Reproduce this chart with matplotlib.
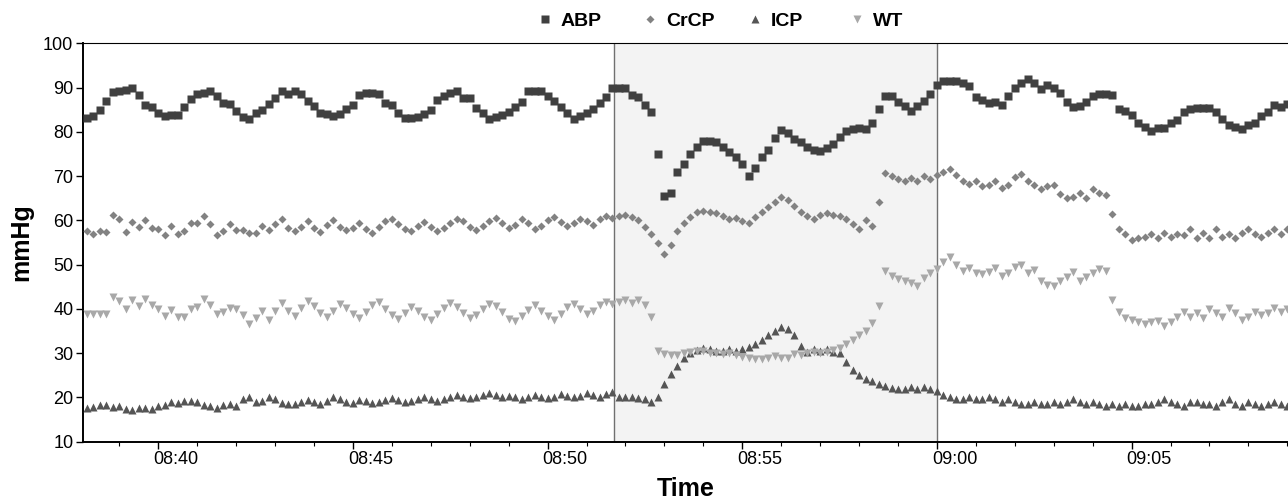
import numpy as np
import matplotlib
matplotlib.use('Agg')
import matplotlib.pyplot as plt
import matplotlib.dates as mdates
import matplotlib.transforms as mtransforms
from matplotlib.lines import Line2D

plt.rcParams['font.family'] = ['Liberation Sans', 'DejaVu Sans']

# samples every 10 s starting 08:38:10
START = np.datetime64('2020-01-01T08:38:10')
STEP_S = 10

abp = [83.2, 83.6, 85.0, 87.0, 89.0, 89.2, 89.5, 89.9, 88.3, 86.0,
       85.6, 84.3, 83.6, 83.7, 83.7, 85.6, 87.5, 88.6, 88.7, 89.2,
       88.0, 86.6, 86.2, 84.6, 83.4, 83.0, 84.2, 84.9, 86.2, 87.7,
       89.2, 88.6, 89.2, 88.6, 87.0, 85.8, 84.3, 84.0, 83.5, 84.0,
       85.1, 86.0, 88.3, 88.8, 88.8, 88.5, 86.6, 86.1, 84.3, 83.2,
       83.2, 83.4, 84.0, 84.9, 87.1, 88.1, 88.8, 89.2, 87.6, 87.6,
       85.4, 84.3, 83.0, 83.4, 83.9, 84.4, 85.5, 86.8, 89.3, 89.3,
       89.3, 88.1, 87.0, 85.7, 84.2, 82.9, 83.5, 84.2, 85.1, 86.6,
       87.8, 90.0, 89.8, 90.0, 88.3, 87.9, 86.0, 84.5, 74.9, 65.6,
       66.1, 70.9, 72.8, 74.9, 76.6, 77.9, 78.0, 77.7, 76.6, 75.5,
       74.4, 72.8, 70.0, 71.8, 74.4, 75.9, 78.5, 80.4, 79.7, 78.4,
       77.6, 76.5, 75.9, 75.7, 76.3, 77.3, 78.9, 80.2, 80.7, 80.8,
       80.6, 82.0, 85.1, 88.1, 88.1, 86.8, 85.9, 84.8, 85.9, 87.0,
       88.6, 90.5, 91.5, 91.5, 91.5, 91.0, 90.3, 87.9, 87.3, 86.6,
       86.8, 86.1, 88.1, 90.0, 91.0, 92.0, 91.0, 89.6, 90.5, 90.0,
       88.8, 86.8, 85.7, 85.9, 86.8, 88.1, 88.6, 88.6, 88.3, 85.1,
       84.8, 83.8, 82.1, 81.2, 80.2, 80.8, 80.8, 82.1, 82.7, 84.4,
       85.1, 85.3, 85.3, 85.3, 84.4, 82.8, 81.5, 81.2, 80.7, 81.5,
       81.9, 83.6, 84.4, 86.1, 85.7, 86.4]

crcp = [57.7, 57.0, 57.5, 57.3, 61.1, 60.2, 57.3, 59.6, 58.4, 60.0,
        58.3, 58.1, 56.8, 58.8, 56.9, 57.5, 59.4, 59.4, 60.9, 59.1,
        56.8, 57.5, 59.1, 57.9, 57.9, 57.2, 57.2, 58.8, 57.9, 59.1,
        60.4, 58.3, 57.5, 58.5, 59.8, 58.2, 57.4, 59.0, 60.1, 58.6,
        57.8, 58.3, 59.5, 58.0, 57.2, 58.4, 59.9, 60.3, 59.1, 58.0,
        57.6, 58.8, 59.6, 58.5, 57.7, 58.2, 59.3, 60.4, 59.8, 58.6,
        57.9, 58.7, 59.9, 60.6, 59.4, 58.3, 59.0, 60.2, 59.3, 58.1,
        58.8, 60.0, 60.8, 59.6, 58.7, 59.5, 60.4, 59.8, 59.0, 60.2,
        60.9, 60.5, 61.0, 61.2, 60.8, 60.0, 58.5, 57.0, 55.0, 52.3,
        54.5, 57.5, 59.5, 60.8, 61.8, 62.2, 62.0, 61.6, 61.0, 60.2,
        60.6, 59.8, 59.5, 60.8, 62.0, 63.0, 64.2, 65.2, 64.6, 63.2,
        62.0, 61.0, 60.3, 61.2, 61.6, 61.2, 61.0, 60.2, 59.2, 58.0,
        60.0, 58.8, 64.2, 70.8, 70.0, 69.4, 68.8, 69.6, 69.0, 70.0,
        69.4, 70.2, 70.9, 71.7, 70.3, 68.8, 68.2, 69.0, 67.8, 68.0,
        68.8, 67.2, 68.0, 69.8, 70.5, 68.8, 68.0, 67.0, 67.8, 68.0,
        66.0, 65.0, 65.2, 66.2, 65.0, 67.0, 66.2, 65.8, 61.5, 58.0,
        57.0, 55.5, 56.0, 56.2, 57.0, 56.0, 57.2, 56.2, 57.0, 56.8,
        58.0, 56.0, 57.2, 56.0, 58.0, 56.2, 57.0, 56.0, 57.2, 58.0,
        57.0, 56.2, 57.2, 58.0, 57.0, 58.0]

icp = [17.6, 17.8, 18.3, 18.2, 17.8, 18.0, 17.4, 17.1, 17.6, 17.6,
       17.3, 18.0, 18.3, 18.9, 18.7, 19.2, 19.1, 19.0, 18.4, 18.1,
       17.6, 18.4, 18.5, 18.0, 19.6, 20.2, 18.9, 19.2, 20.0, 19.6,
       18.7, 18.5, 18.6, 19.0, 19.4, 19.0, 18.6, 19.2, 20.0, 19.6,
       19.0, 18.8, 19.4, 19.2, 18.8, 19.0, 19.4, 19.8, 19.4, 19.0,
       19.2, 19.6, 20.0, 19.6, 19.2, 19.6, 20.2, 20.6, 20.2, 19.8,
       20.0, 20.6, 21.0, 20.6, 20.2, 20.4, 20.0, 19.6, 20.0, 20.6,
       20.2, 19.8, 20.2, 20.8, 20.4, 20.0, 20.4, 21.0, 20.6, 20.2,
       20.8, 21.2, 20.2, 20.0, 20.2, 19.8, 19.6, 19.0, 20.2, 23.0,
       25.2, 27.0, 28.8, 30.0, 30.8, 31.2, 31.0, 30.6, 30.6, 31.0,
       30.6, 31.0, 31.4, 32.0, 33.0, 34.0, 35.0, 35.8, 35.4, 34.0,
       31.6, 30.2, 31.0, 30.6, 31.0, 30.2, 30.0, 28.0, 26.2, 25.0,
       24.2, 23.6, 23.0, 22.6, 22.2, 22.0, 22.0, 22.4, 22.0, 22.4,
       22.0, 21.4, 20.6, 20.0, 19.6, 19.6, 20.0, 19.6, 19.6, 20.0,
       19.6, 19.0, 19.6, 19.0, 18.6, 18.6, 19.0, 18.6, 18.6, 19.0,
       18.6, 19.0, 19.6, 19.0, 18.6, 19.0, 18.6, 18.0, 18.6, 18.0,
       18.6, 18.0, 18.0, 18.6, 18.6, 19.0, 19.6, 19.0, 18.6, 18.0,
       19.0, 19.0, 18.6, 18.6, 18.0, 19.0, 19.6, 18.6, 18.0, 19.0,
       18.6, 18.0, 18.6, 19.0, 18.6, 18.0]

wt = [38.9, 38.8, 38.8, 38.8, 42.8, 41.7, 40.0, 42.1, 40.7, 42.3,
      40.9, 40.0, 38.4, 39.8, 38.1, 38.2, 40.0, 40.5, 42.2, 40.9,
      38.9, 39.2, 40.3, 39.9, 38.6, 36.7, 38.0, 39.5, 37.6, 39.5,
      41.3, 39.5, 38.5, 40.2, 41.8, 40.6, 39.0, 38.2, 39.6, 41.0,
      40.2, 38.8, 38.0, 39.2, 40.8, 41.5, 40.0, 38.6, 37.8, 39.0,
      40.5, 39.6, 38.2, 37.6, 38.8, 40.2, 41.4, 40.4, 39.0, 38.0,
      38.6, 40.0, 41.2, 40.6, 39.2, 37.8, 37.2, 38.4, 39.8, 40.8,
      39.6, 38.4, 37.6, 38.8, 40.4, 41.2, 40.0, 38.8, 39.6, 40.8,
      41.6, 41.0, 41.6, 42.0, 41.4, 42.0, 40.8, 38.2, 30.6, 29.8,
      29.6, 29.6, 30.0, 30.2, 30.6, 30.4, 30.0, 30.0, 29.8, 30.0,
      29.6, 29.2, 29.0, 28.6, 28.6, 29.0, 29.4, 29.0, 29.0, 29.8,
      29.6, 30.0, 30.2, 30.0, 30.2, 30.8, 31.2, 32.0, 33.0, 34.0,
      35.0, 36.8, 40.6, 48.6, 47.4, 46.8, 46.2, 45.8, 45.2, 47.0,
      48.0, 49.0, 50.6, 51.8, 50.0, 48.6, 49.2, 48.2, 47.8, 48.4,
      49.2, 47.4, 48.2, 49.4, 50.0, 48.2, 48.8, 46.4, 45.4, 45.2,
      46.2, 47.2, 48.4, 46.4, 47.2, 48.2, 49.0, 48.6, 42.0, 39.2,
      38.0, 37.4, 37.0, 36.6, 37.0, 37.2, 36.2, 37.0, 38.2, 39.2,
      38.2, 39.0, 38.0, 40.0, 39.0, 38.2, 40.2, 39.0, 37.4, 38.2,
      39.2, 38.6, 39.0, 40.2, 39.2, 40.0]

SHADE = (np.datetime64('2020-01-01T08:51:42'), np.datetime64('2020-01-01T09:00:00'))
XLIM = (np.datetime64('2020-01-01T08:38:04'), np.datetime64('2020-01-01T09:09:01'))


def times(vals):
    return START + np.arange(len(vals)) * np.timedelta64(STEP_S, 's')


fig = plt.figure(figsize=(12.88, 5.03), dpi=100)
ax = fig.add_axes([83 / 1288, 61.3 / 503, 1 - 83 / 1288, 398.4 / 503])

ax.axvspan(SHADE[0], SHADE[1], facecolor='#f3f3f3', edgecolor='none', zorder=0)
for t in SHADE:
    ax.axvline(t, color='#707070', lw=1.0, zorder=1)

series = [
    ('ABP', abp, 's', 5.2, '#404040'),
    ('CrCP', crcp, 'D', 3.8, '#828282'),
    ('ICP', icp, '^', 5.2, '#555555'),
    ('WT', wt, 'v', 5.6, '#a8a8a8'),
]
for name, vals, mk, ms, col in series:
    ax.plot(times(vals), vals, mk, ms=ms, color=col, mec='none', label=name, zorder=3)

ax.set_xlim(XLIM)
ax.set_ylim(10, 100)
ax.set_yticks(np.arange(10, 101, 10))
ax.xaxis.set_major_locator(mdates.MinuteLocator(byminute=range(0, 60, 5)))
ax.xaxis.set_minor_locator(mdates.MinuteLocator())
ax.xaxis.set_major_formatter(mdates.DateFormatter('%H:%M'))
ax.tick_params(axis='both', which='major', labelsize=13, length=5, width=1, direction='out', pad=2)
ax.tick_params(axis='x', which='minor', length=3, width=0.8)
shift = mtransforms.ScaledTranslation(17.5 / 100, 0, fig.dpi_scale_trans)
for lab in ax.get_xticklabels():
    lab.set_transform(lab.get_transform() + shift)

ax.spines['right'].set_visible(False)
for s in ['left', 'bottom']:
    ax.spines[s].set_linewidth(1.4)
ax.spines['top'].set_linewidth(0.8)

ax.set_xlabel('Time', fontsize=18, fontweight='bold', labelpad=6)
ax.set_ylabel('mmHg', fontsize=18, fontweight='bold', labelpad=7)

# legend entries sit at fixed spacing along the top
legend_x = [545, 650, 755, 857]
for (name, vals, mk, ms, col), mx in zip(series, legend_x):
    h = Line2D([], [], ls='none', marker=mk, ms=ms, color=col, mec='none')
    fig.legend([h], [name], loc='center left', bbox_to_anchor=((mx - 7.8) / 1288, 1 - 21 / 503),
               frameon=False, prop={'size': 14, 'weight': 'bold'}, handlelength=0.8,
               handletextpad=0.42, borderpad=0, borderaxespad=0)

fig.savefig('out.png', dpi=100)
